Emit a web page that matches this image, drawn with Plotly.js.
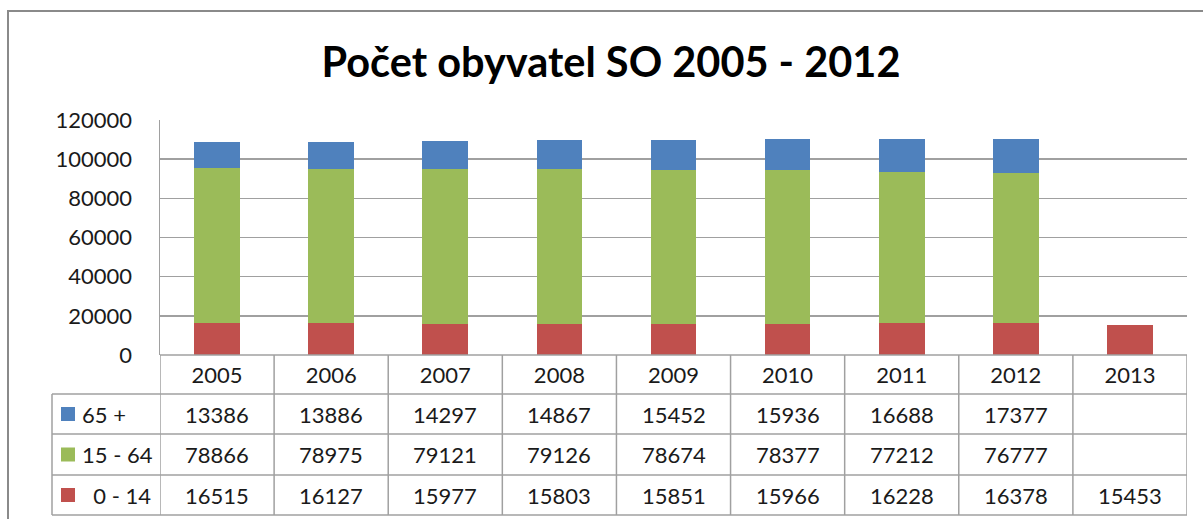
<!DOCTYPE html>
<html><head><meta charset="utf-8">
<script src="https://cdn.plot.ly/plotly-3.0.1.min.js"></script>
<style>html,body{margin:0;padding:0;background:#fff;}#chart{width:1203px;height:519px;}</style>
</head><body><div id="chart"></div>
<script>
const years = ["2005","2006","2007","2008","2009","2010","2011","2012","2013"];
const seriesNames = ["65 +", "15 - 64", " 0 - 14"];
const age65 = [13386, 13886, 14297, 14867, 15452, 15936, 16688, 17377, null];
const age15 = [78866, 78975, 79121, 79126, 78674, 78377, 77212, 76777, null];
const age0  = [16515, 16127, 15977, 15803, 15851, 15966, 16228, 16378, 15453];
const yTicks = [0, 20000, 40000, 60000, 80000, 100000, 120000];
const titleText = "Počet obyvatel SO 2005 - 2012";

const colors = ["#4F81BD", "#9BBB59", "#C0504D"];
const W = 1203, H = 519;
const px = x => x / W, py = y => 1 - y / H;
const FONT = "Lato, 'Liberation Sans', sans-serif";
const txtColor = "#1a1a1a";
const gridCol = "#a0a0a0";
const FS = 22;

const traces = [
  {type:"bar", name:seriesNames[2], x:years, y:age0, marker:{color:colors[2]}},
  {type:"bar", name:seriesNames[1], x:years, y:age15, marker:{color:colors[1]}},
  {type:"bar", name:seriesNames[0], x:years, y:age65, marker:{color:colors[0]}}
];

// table rows (top to bottom): 65+, 15-64, 0-14
const rowData = [age65, age15, age0];
const rowTop = [394, 434, 475];
const rowBot = [434, 475, 515];
const shapes = [];
const annotations = [];

// outer frame
shapes.push({type:"rect", xref:"paper", yref:"paper", x0:px(8), x1:px(1215), y0:py(11), y1:py(530),
  line:{color:"#8a8a8a", width:2}});

// horizontal table lines
shapes.push({type:"line", xref:"paper", yref:"paper", x0:px(160), x1:px(1187), y0:py(355), y1:py(355), line:{color:gridCol, width:1.5}});
[394, 434, 475, 515].forEach(y => shapes.push({type:"line", xref:"paper", yref:"paper",
  x0:px(52), x1:px(1187), y0:py(y), y1:py(y), line:{color:gridCol, width:1.5}}));
// vertical table lines at category boundaries
for (let k = 0; k <= years.length; k++) {
  shapes.push({type:"line", xref:"x", yref:"paper", x0:k-0.5, x1:k-0.5, y0:py(355), y1:py(515), line:{color:gridCol, width:1.5}});
}
shapes.push({type:"line", xref:"paper", yref:"paper", x0:px(52), x1:px(52), y0:py(394), y1:py(515), line:{color:gridCol, width:1.5}});

rowData.forEach((arr, r) => {
  const yc = (rowTop[r] + rowBot[r]) / 2;
  // legend key square
  shapes.push({type:"rect", xref:"paper", yref:"paper", x0:px(61), x1:px(75), y0:py(yc-7), y1:py(yc+7),
    fillcolor:colors[r], line:{width:0}});
  annotations.push({xref:"paper", yref:"paper", x:px(80), y:py(yc), xanchor:"left", yanchor:"middle",
    text:seriesNames[r].replace(/^ /, "\u00a0\u00a0"), showarrow:false, font:{family:FONT, size:FS, color:txtColor}});
  arr.forEach((v, i) => {
    if (v === null) return;
    annotations.push({xref:"x", yref:"paper", x:i, y:py(yc), xanchor:"center", yanchor:"middle",
      text:String(v), showarrow:false, font:{family:FONT, size:FS, color:txtColor}});
  });
});

const layout = {
  width:W, height:H, margin:{l:0, r:0, t:0, b:0},
  paper_bgcolor:"#fff", plot_bgcolor:"#fff",
  barmode:"stack", bargap:0.6, showlegend:false,
  title:{text:titleText, x:px(611), xref:"paper", xanchor:"center", y:py(62), yref:"paper", yanchor:"middle",
    font:{family:FONT, size:41.5, color:"#000", weight:"bold"}},
  xaxis:{domain:[px(160), px(1187)], type:"category", range:[-0.5, years.length-0.5], autorange:false,
    showgrid:false, zeroline:false, showline:false, ticks:"outside", ticklen:1, tickcolor:"rgba(0,0,0,0)",
    tickfont:{family:FONT, size:FS, color:txtColor}, fixedrange:true},
  yaxis:{domain:[py(355), py(120)], range:[0, 120000], autorange:false, tickvals:yTicks, ticktext:yTicks.map(String),
    showgrid:true, gridcolor:gridCol, gridwidth:1.5, zeroline:false, showline:true, linecolor:gridCol, linewidth:1.5,
    ticks:"outside", ticklen:22, tickcolor:"rgba(0,0,0,0)",
    tickfont:{family:FONT, size:FS, color:txtColor}, fixedrange:true},
  shapes, annotations
};
Plotly.newPlot("chart", traces, layout, {displayModeBar:false, staticPlot:true});
</script></body></html>
